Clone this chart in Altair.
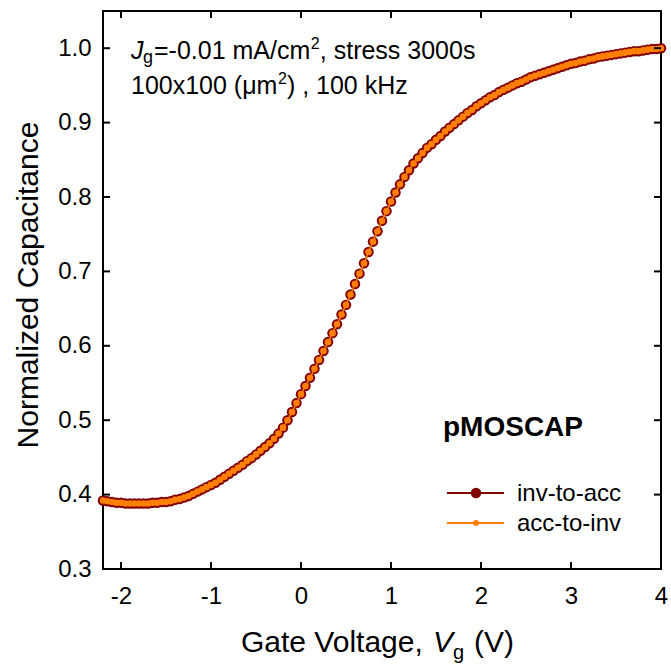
import altair as alt
import pandas as pd

# ---------------- data ----------------
V = [-2.20, -2.15, -2.10, -2.05, -2.00, -1.95, -1.90, -1.85, -1.80, -1.75,
     -1.70, -1.65, -1.60, -1.55, -1.50, -1.45, -1.40, -1.35, -1.30, -1.25,
     -1.20, -1.15, -1.10, -1.05, -1.00, -0.95, -0.90, -0.85, -0.80, -0.75,
     -0.70, -0.65, -0.60, -0.55, -0.50, -0.45, -0.40, -0.35, -0.30, -0.25,
     -0.20, -0.15, -0.10, -0.05, 0.00, 0.05, 0.10, 0.15, 0.20, 0.25,
     0.30, 0.35, 0.40, 0.45, 0.50, 0.55, 0.60, 0.65, 0.70, 0.75,
     0.80, 0.85, 0.90, 0.95, 1.00, 1.05, 1.10, 1.15, 1.20, 1.25,
     1.30, 1.35, 1.40, 1.45, 1.50, 1.55, 1.60, 1.65, 1.70, 1.75,
     1.80, 1.85, 1.90, 1.95, 2.00, 2.05, 2.10, 2.15, 2.20, 2.25,
     2.30, 2.35, 2.40, 2.45, 2.50, 2.55, 2.60, 2.65, 2.70, 2.75,
     2.80, 2.85, 2.90, 2.95, 3.00, 3.05, 3.10, 3.15, 3.20, 3.25,
     3.30, 3.35, 3.40, 3.45, 3.50, 3.55, 3.60, 3.65, 3.70, 3.75,
     3.80, 3.85, 3.90, 3.95, 4.00]

C_INV = [0.392, 0.391, 0.390, 0.389, 0.389, 0.388, 0.388, 0.388, 0.388, 0.388,
         0.388, 0.389, 0.389, 0.390, 0.390, 0.391, 0.393, 0.394, 0.396, 0.398,
         0.401, 0.404, 0.407, 0.410, 0.413, 0.416, 0.420, 0.424, 0.428, 0.432,
         0.436, 0.440, 0.445, 0.449, 0.454, 0.459, 0.464, 0.469, 0.475, 0.482,
         0.490, 0.500, 0.511, 0.523, 0.535, 0.546, 0.557, 0.569, 0.581, 0.593,
         0.605, 0.617, 0.629, 0.642, 0.655, 0.669, 0.683, 0.697, 0.711, 0.726,
         0.740, 0.754, 0.768, 0.781, 0.794, 0.806, 0.817, 0.827, 0.836, 0.845,
         0.852, 0.859, 0.866, 0.871, 0.877, 0.882, 0.888, 0.893, 0.898, 0.903,
         0.908, 0.913, 0.917, 0.922, 0.926, 0.930, 0.934, 0.937, 0.941, 0.944,
         0.947, 0.950, 0.953, 0.955, 0.958, 0.961, 0.963, 0.965, 0.967, 0.969,
         0.971, 0.973, 0.975, 0.977, 0.979, 0.980, 0.982, 0.983, 0.985, 0.986,
         0.988, 0.989, 0.990, 0.991, 0.992, 0.993, 0.994, 0.995, 0.996, 0.996,
         0.997, 0.998, 0.999, 0.999, 1.000]

# the two sweeps coincide in the picture
C_ACC = list(C_INV)

X_TICKS = [-2, -1, 0, 1, 2, 3, 4]
Y_TICKS = [0.3, 0.4, 0.5, 0.6, 0.7, 0.8, 0.9, 1.0]

SERIES = ["inv-to-acc", "acc-to-inv"]

# ---------------- style ----------------
W = H = 558
FONT = "Liberation Sans"
DARK = "#800000"
ORANGE = "#FF8000"
TL = 7  # inward tick length

xscale = alt.Scale(domain=[-2.2, 4.0], nice=False, zero=False)
yscale = alt.Scale(domain=[0.3, 1.05], nice=False, zero=False)
common = dict(title=None, ticks=False, tickSize=0, domain=False, grid=False,
              labelFont=FONT, labelFontSize=24, labelColor="black",
              labelFlush=False, labelOverlap=False)
xaxis = alt.Axis(values=X_TICKS, labelPadding=15,
                 labelExpr="'' + datum.value", **common)
yaxis = alt.Axis(values=Y_TICKS, labelPadding=12,
                 labelExpr="format(datum.value, '.1f')", **common)

X = alt.X("V:Q", scale=xscale, axis=xaxis)
Y = alt.Y("C:Q", scale=yscale, axis=yaxis)

inv_df = pd.DataFrame({"V": V, "C": C_INV})
acc_df = pd.DataFrame({"V": V, "C": C_ACC})

inv_line = alt.Chart(inv_df).mark_line(color=DARK, strokeWidth=2).encode(x=X, y=Y)
inv_pts = alt.Chart(inv_df).mark_point(filled=True, shape="circle", size=110,
                                       color=DARK, opacity=1, strokeWidth=0).encode(x=X, y=Y)
acc_line = alt.Chart(acc_df).mark_line(color=ORANGE, strokeWidth=1.5).encode(x=X, y=Y)
acc_pts = alt.Chart(acc_df).mark_point(filled=True, shape="circle", size=44,
                                       color=ORANGE, opacity=1, strokeWidth=0).encode(x=X, y=Y)

xt_df = pd.DataFrame({"V": X_TICKS})
yt_df = pd.DataFrame({"C": Y_TICKS})
rule_kw = dict(color="black", strokeWidth=2)
bottom_ticks = alt.Chart(xt_df).mark_rule(**rule_kw).encode(
    x=X, y=alt.value(H), y2=alt.value(H - TL))
top_ticks = alt.Chart(xt_df).mark_rule(**rule_kw).encode(
    x=X, y=alt.value(0), y2=alt.value(TL))
left_ticks = alt.Chart(yt_df).mark_rule(**rule_kw).encode(
    y=Y, x=alt.value(0), x2=alt.value(TL))
right_ticks = alt.Chart(yt_df).mark_rule(**rule_kw).encode(
    y=Y, x=alt.value(W), x2=alt.value(W - TL))

one = alt.Data(values=[{}])


def txt(s, x, y, size, **kw):
    opts = dict(text=s, font=FONT, fontSize=size, color="black",
                align="left", baseline="alphabetic")
    opts.update(kw)
    return alt.Chart(one).mark_text(**opts).encode(x=alt.value(x), y=alt.value(y))


FS = 25
x_eq = 51
x_sup1 = x_eq + 6.252 * FS          # after "=-0.01 mA/cm"
x_sup2 = 28 + 5.856 * FS            # after "100x100 (μm"
texts = [
    # annotation
    txt("J", 28, 48, FS, fontStyle="italic"),
    txt("g", 40, 52, 18),
    txt("=-0.01 mA/cm", x_eq, 48, FS),
    txt("2", x_sup1 + 0.5, 38, 16),
    txt(", stress 3000s", x_sup1 + 9.5, 48, FS),
    txt("100x100 (μm", 28, 83, FS),
    txt("2", x_sup2 + 0.5, 73, 16),
    txt(") , 100 kHz", x_sup2 + 9.5, 83, FS),
    # x title
    txt("Gate Voltage,", 138, 641, 30),
    txt("V", 330, 641, 30, fontStyle="italic"),
    txt("g", 350, 648, 20),
    txt("(V)", 371, 641, 30),
    # y title
    txt("Normalized Capacitance", -65, 274, 30, angle=270, align="center"),
    # legend
    txt("pMOSCAP", 340, 425, 28, fontWeight="bold"),
    txt(SERIES[0], 414, 490, 24),
    txt(SERIES[1], 414, 520, 24),
]

leg = [
    alt.Chart(one).mark_rule(color=DARK, strokeWidth=2).encode(
        x=alt.value(344), x2=alt.value(401), y=alt.value(482)),
    alt.Chart(one).mark_point(filled=True, shape="circle", size=110, color=DARK,
                              opacity=1, strokeWidth=0).encode(
        x=alt.value(373), y=alt.value(482)),
    alt.Chart(one).mark_rule(color=ORANGE, strokeWidth=2).encode(
        x=alt.value(344), x2=alt.value(401), y=alt.value(512)),
    alt.Chart(one).mark_point(filled=True, shape="circle", size=36, color=ORANGE,
                              opacity=1, strokeWidth=0).encode(
        x=alt.value(373), y=alt.value(512)),
]

chart = alt.layer(
    inv_line, inv_pts, acc_line, acc_pts,
    bottom_ticks, top_ticks, left_ticks, right_ticks,
    *texts, *leg
).properties(
    width=W, height=H,
    padding={"left": 103, "top": 11, "right": 10, "bottom": 99},
    autosize=alt.AutoSizeParams(type="none"),
    background="white",
).configure_view(stroke="black", strokeWidth=2)

chart.save("out.html", embed_options={"renderer": "svg", "actions": False})
